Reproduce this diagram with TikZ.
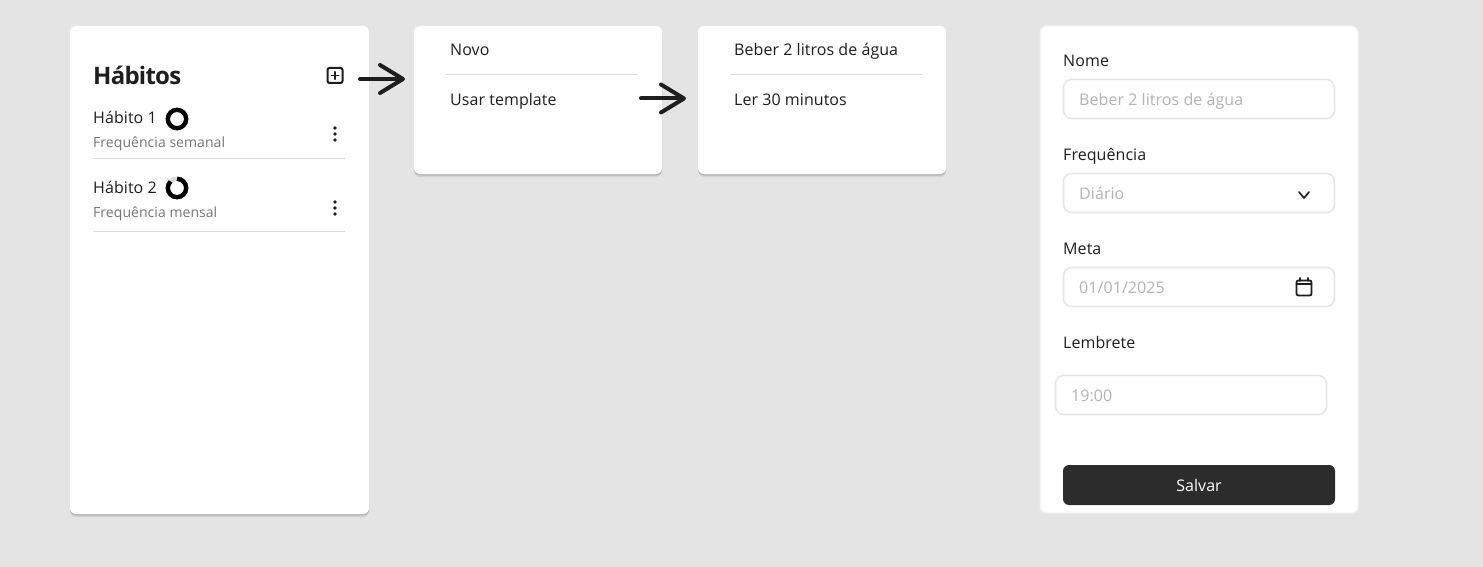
\documentclass[tikz,border=0pt]{standalone}
\usepackage{fontspec}
\setmainfont[LetterSpace=0.4]{Open Sans}
\newfontfamily\titlefont[LetterSpace=-3.2]{Open Sans}
\usetikzlibrary{arrows.meta,shadows}
\definecolor{pagebg}{HTML}{E4E4E4}
\definecolor{ink}{HTML}{1E1E1E}
\definecolor{muted}{HTML}{757575}
\definecolor{hint}{HTML}{B3B3B3}
\definecolor{rulegray}{HTML}{D9D9D9}
\definecolor{edgegray}{HTML}{E6E6E6}
\definecolor{btn}{HTML}{2C2C2C}
\begin{document}
\begin{tikzpicture}[x=1pt,y=-1pt,>={Straight Barb[length=23pt,width=28pt,line width=4pt,round]}]
	\tikzstyle{card} = [rectangle,anchor=north west,inner sep=0,outer sep=0,fill=white,rounded corners=6pt];
	\tikzstyle{raised} = [card,drop shadow={shadow xshift=0pt,shadow yshift=-3pt,opacity=0.07,fill=black},drop shadow={shadow xshift=0pt,shadow yshift=-1.5pt,opacity=0.14,fill=black}];
	\tikzstyle{field} = [rectangle,anchor=north west,inner sep=0,outer sep=0,minimum width=271pt,minimum height=39pt,fill=white,draw=edgegray,line width=1.6pt,rounded corners=8pt];
	\tikzstyle{label} = [anchor=base west,inner sep=0,text=ink,font=\fontsize{16}{18}\selectfont];
	\tikzstyle{sublabel} = [anchor=base west,inner sep=0,text=muted,font=\fontsize{14}{16}\selectfont];
	\tikzstyle{placeholder} = [anchor=base west,inner sep=0,text=hint,font=\fontsize{16}{18}\selectfont];
	\tikzstyle{dot} = [circle,fill=ink,inner sep=0,outer sep=0,minimum size=3.6pt];
	\tikzstyle{divider} = [rulegray,line width=1pt];
	\tikzstyle{icon} = [ink,line width=1.8pt,line cap=round,line join=round];
	\tikzstyle{ring} = [circle,line width=4.4pt,inner sep=0,outer sep=0,minimum size=18.4pt];
	\useasboundingbox[fill=pagebg] (0,0) rectangle (1483,567);
	% cards
	\node[raised,minimum width=299pt,minimum height=488pt] (habits) at (70,26) {};
	\node[raised,minimum width=248pt,minimum height=148pt] (menu) at (414,26) {};
	\node[raised,minimum width=248pt,minimum height=148pt] (templates) at (698,26) {};
	\node[card,draw=black!6,line width=1pt,minimum width=318pt,minimum height=487pt] (form) at (1040,26) {};
	% list
	\node[anchor=base west,inner sep=0,text=ink,font=\fontsize{24}{26}\selectfont\titlefont\bfseries] (title) at (93,84.5) {Hábitos};
	\node[rectangle,draw=ink,line width=2pt,rounded corners=2pt,minimum size=15pt,inner sep=0,outer sep=0] (add) at (335,75.5) {};
	\draw[icon] (add.center)+(-3.6,0) -- +(3.6,0);
	\draw[icon] (add.center)+(0,-3.6) -- +(0,3.6);
	\node[label] (h1) at (93,124) {Hábito 1};
	\node[sublabel] (f1) at (93,147) {Frequência semanal};
	\node[ring,draw=black] (ring1) at (177,119) {};
	\node[dot] (d1) at (335,128) {};
	\node[dot] (d2) at (335,134) {};
	\node[dot] (d3) at (335,140) {};
	\coordinate (r1a) at (93,158.5);
	\coordinate (r1b) at (345,158.5);
	\draw[divider] (r1a) -- (r1b);
	\node[label] (h2) at (93,193.5) {Hábito 2};
	\node[sublabel] (f2) at (93,217) {Frequência mensal};
	\node[ring,draw=rulegray] (ring2) at (177,188) {};
	\draw[black,line width=4.4pt] (ring2.north) arc[start angle=90,end angle=-225,radius=9.2pt];
	\node[dot] (d4) at (335,202) {};
	\node[dot] (d5) at (335,208) {};
	\node[dot] (d6) at (335,214) {};
	\coordinate (r2a) at (93,231.5);
	\coordinate (r2b) at (345,231.5);
	\draw[divider] (r2a) -- (r2b);
	% menu
	\node[label] (new) at (450,55.5) {Novo};
	\coordinate (r3a) at (446,74.5);
	\coordinate (r3b) at (638,74.5);
	\draw[divider] (r3a) -- (r3b);
	\node[label] (usetpl) at (450,105.5) {Usar template};
	% templates
	\node[label] (water) at (734,55.5) {Beber 2 litros de água};
	\coordinate (r4a) at (730,74.5);
	\coordinate (r4b) at (922,74.5);
	\draw[divider] (r4a) -- (r4b);
	\node[label] (read) at (734,105.5) {Ler 30 minutos};
	% arrows
	\coordinate (a1) at (360,79);
	\coordinate (a2) at (405,79);
	\coordinate (a3) at (641,98.5);
	\coordinate (a4) at (686,98.5);
	\draw[->,ink,line width=4pt,line cap=round] (a1) -- (a2);
	\draw[->,ink,line width=4pt,line cap=round] (a3) -- (a4);
	% form
	\node[label] (lname) at (1063,66.5) {Nome};
	\node[field] (fname) at (1063.5,79.5) {};
	\node[placeholder] (pname) at (1079,105.5) {Beber 2 litros de água};
	\node[label] (lfreq) at (1063,160.5) {Frequência};
	\node[field] (ffreq) at (1063.5,173.5) {};
	\node[placeholder] (pfreq) at (1079,199.5) {Diário};
	\draw[icon,line width=1.6pt] (1299,192) -- (1304,198) -- (1309,192);
	\node[label] (lgoal) at (1063,254.5) {Meta};
	\node[field] (fgoal) at (1063.5,267.5) {};
	\node[placeholder] (pgoal) at (1079,293.5) {01/01/2025};
	\node[rectangle,draw=ink,line width=1.8pt,rounded corners=2pt,minimum width=15pt,minimum height=15pt,inner sep=0,outer sep=0] (cal) at (1304,288) {};
	\draw[icon] (1296.5,284) -- (1311.5,284);
	\draw[icon] (1300,278) -- (1300,281);
	\draw[icon] (1308,278) -- (1308,281);
	\node[label] (lrem) at (1063,348.5) {Lembrete};
	\node[field] (frem) at (1055.5,375.5) {};
	\node[placeholder] (prem) at (1071,401.5) {19:00};
	\node[rectangle,anchor=north west,inner sep=0,outer sep=0,minimum width=272pt,minimum height=40pt,fill=btn,rounded corners=6pt,text=white,font=\fontsize{16}{18}\selectfont] (save) at (1063,465) {Salvar};
\end{tikzpicture}
\end{document}
